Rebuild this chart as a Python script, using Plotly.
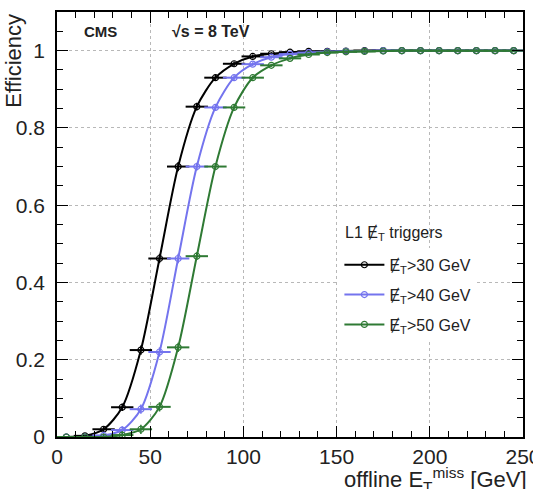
import plotly.graph_objects as go

# ---- data ----
met_bins = [5, 15, 25, 35, 45, 55, 65, 75, 85, 95, 105, 115, 125, 135, 145,
            155, 165, 175, 185, 195, 205, 215, 225, 235, 245]
bin_halfwidth = [6] * len(met_bins)

eff_30 = [0.0, 0.003, 0.02, 0.077, 0.225, 0.462, 0.70, 0.855, 0.93, 0.966, 0.985,
          0.992, 0.996, 0.998, 0.998, 0.999, 1.0, 1.0, 1.0, 1.0, 1.0, 1.0, 1.0, 1.0, 1.0]
eff_40 = [0.0, 0.0, 0.004, 0.018, 0.072, 0.22, 0.462, 0.70, 0.853, 0.93, 0.965,
          0.983, 0.991, 0.995, 0.997, 0.998, 0.999, 1.0, 1.0, 1.0, 1.0, 1.0, 1.0, 1.0, 1.0]
eff_50 = [0.0, 0.0, 0.0, 0.005, 0.02, 0.078, 0.232, 0.468, 0.70, 0.853, 0.93,
          0.962, 0.98, 0.99, 0.995, 0.997, 0.998, 0.999, 1.0, 1.0, 1.0, 1.0, 1.0, 1.0, 1.0]
eff_err = [0.0, 0.003, 0.008, 0.01, 0.012, 0.012, 0.012, 0.01, 0.008, 0.006, 0.005,
           0.004, 0.003, 0.003, 0.003, 0.003, 0.003, 0.003, 0.003, 0.003, 0.003, 0.003, 0.003, 0.003, 0.003]

MET = "\u0246"  # E with stroke (missing-ET symbol)
series_names = [f"{MET}<sub>T</sub>>30 GeV", f"{MET}<sub>T</sub>>40 GeV", f"{MET}<sub>T</sub>>50 GeV"]
series_vals = [eff_30, eff_40, eff_50]
series_colors = ["#000000", "#7474ee", "#2f7a34"]

FONT = "Liberation Sans, Arial, sans-serif"

fig = go.Figure()
for i, (name, vals, col) in enumerate(zip(series_names, series_vals, series_colors)):
    fig.add_trace(go.Scatter(
        x=met_bins, y=vals, name=name, legendgroup=f"g{i}",
        mode="lines+markers",
        line=dict(color=col, width=2, shape="spline", smoothing=0.8),
        marker=dict(symbol="circle-open", size=6, color=col, line=dict(width=1.2, color=col)),
        error_x=dict(type="data", array=bin_halfwidth, color=col, thickness=2, width=0),
        error_y=dict(type="data", array=eff_err, color=col, thickness=1.5, width=0),
    ))

axis_common = dict(
    showline=True, linecolor="black", linewidth=1.5, mirror="allticks",
    ticks="inside", ticklen=11, tickwidth=1.2, tickcolor="black",
    showgrid=True, gridcolor="#b8b8b8", griddash="dot", gridwidth=1,
    zeroline=False, automargin=False,
    tickfont=dict(family=FONT, size=21, color="#222"),
    minor=dict(ticks="inside", ticklen=6, tickwidth=1, tickcolor="black", showgrid=False),
)

fig.update_xaxes(range=[0, 250], dtick=50, minor_dtick=10, ticklabeloverflow="allow", **axis_common)
fig.update_yaxes(range=[0, 1.1], tickvals=[0, 0.2, 0.4, 0.6, 0.8, 1.0],
                 ticktext=["0", "0.2", "0.4", "0.6", "0.8", "1"],
                 minor_dtick=0.05, ticklabelstandoff=6, **axis_common)

fig.update_layout(
    width=533, height=489,
    margin=dict(l=57, r=10, t=12, b=52, autoexpand=False),
    plot_bgcolor="white", paper_bgcolor="white",
    font=dict(family=FONT, color="#222"),
    showlegend=True,
    legend=dict(
        x=0.606, y=0.445, xanchor="left", yanchor="top",
        bgcolor="rgba(255,255,255,1)", borderwidth=0,
        font=dict(family=FONT, size=16, color="#222"),
        itemwidth=40, tracegroupgap=6,
    ),
    annotations=[
        dict(text=f"L1 {MET}<sub>T</sub> triggers", xref="paper", yref="paper", x=0.6137, y=0.478,
             xanchor="left", yanchor="middle", showarrow=False,
             font=dict(family=FONT, size=16, color="#222")),
        dict(text="Efficiency", xref="paper", yref="paper", x=-0.095, y=1.0,
             xanchor="center", yanchor="top", textangle=-90, showarrow=False,
             font=dict(family=FONT, size=22, color="#222")),
        dict(text="offline E<sub>T</sub><sup>miss</sup> [GeV]", xref="paper", yref="paper",
             x=1.012, y=-0.141, xanchor="right", yanchor="bottom", showarrow=False,
             font=dict(family=FONT, size=22, color="#222")),
        dict(text="<b>CMS</b>", xref="paper", yref="paper", x=0.054, y=0.953,
             xanchor="left", yanchor="middle", showarrow=False,
             font=dict(family=FONT, size=15, color="#222")),
        dict(text="<b>\u221As = 8 TeV</b>", xref="paper", yref="paper", x=0.2425, y=0.953,
             xanchor="left", yanchor="middle", showarrow=False,
             font=dict(family=FONT, size=16, color="#222")),
    ],
)

fig.write_html("out.html")
